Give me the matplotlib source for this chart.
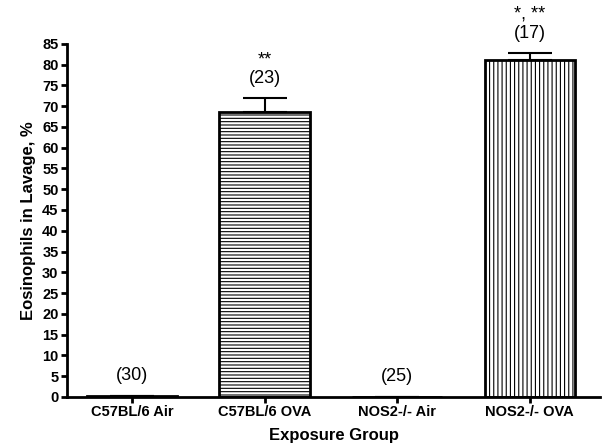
import matplotlib.pyplot as plt

plt.rcParams['font.family'] = ['Liberation Sans', 'DejaVu Sans']
plt.rcParams['hatch.linewidth'] = 0.8

groups = ['C57BL/6 Air', 'C57BL/6 OVA', 'NOS2-/- Air', 'NOS2-/- OVA']
means = [0.3, 68.7, 0.0, 81.2]
sem = [0.0, 3.2, 0.0, 1.6]
counts = ['(30)', '(23)', '(25)', '(17)']
stars = ['', '**', '', '*, **']
hatches = ['', '-----', '', '||||']

fig = plt.figure(figsize=(6.02, 4.47), dpi=100)
ax = fig.add_axes([0.111, 0.112, 0.886, 0.79])

x = range(len(groups))
bars = ax.bar(x, means, width=0.68, color='white', edgecolor='black',
              linewidth=2, zorder=2)
for b, h in zip(bars, hatches):
    b.set_hatch(h)

ax.errorbar(x, means, yerr=[[0] * 4, sem], fmt='none', ecolor='black',
            elinewidth=1.5, capsize=16, capthick=1.5, zorder=3)

for i in x:
    top = means[i] + sem[i]
    ax.text(i, top + 4.8, counts[i], ha='center', va='center', fontsize=13)
    if stars[i]:
        ax.text(i, top + 9.3, stars[i], ha='center', va='center',
                fontsize=13)

ax.set_xlim(-0.49, 3.53)
ax.set_ylim(0, 85)
ax.set_yticks(range(0, 86, 5))
ax.set_xticks(list(x))
ax.set_xticklabels(groups, fontweight='bold', fontsize=10.5)
for lab in ax.get_yticklabels():
    lab.set_fontweight('bold')
    lab.set_fontsize(10.5)

ax.spines['top'].set_visible(False)
ax.spines['right'].set_visible(False)
ax.spines['left'].set_linewidth(2)
ax.spines['bottom'].set_linewidth(2)
ax.tick_params(width=2, length=4, pad=2)

ax.set_xlabel('Exposure Group', fontweight='bold', fontsize=12, labelpad=6)
ax.set_ylabel('Eosinophils in Lavage, %', fontweight='bold', fontsize=12,
              labelpad=4)

fig.savefig('out.png', dpi=100)
